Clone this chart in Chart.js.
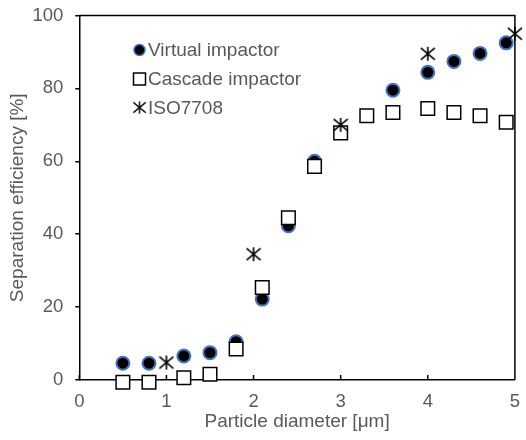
<!DOCTYPE html>
<html>
<head>
<meta charset="utf-8">
<script src="https://cdn.jsdelivr.net/npm/chart.js@4/dist/chart.umd.min.js"></script>
<style>
html,body{margin:0;padding:0;background:#fff;}
#wrap{width:526px;height:440px;position:relative;}
</style>
</head>
<body>
<div id="wrap"><canvas id="c"></canvas></div>
<script>
// Data
const virtualX = [0.5, 0.8, 1.2, 1.5, 1.8, 2.1, 2.4, 2.7, 3.6, 4.0, 4.3, 4.6, 4.9];
const virtualY = [4.6, 4.6, 6.6, 7.5, 10.5, 22.2, 42.3, 60.0, 79.5, 84.4, 87.4, 89.6, 92.5];
const cascadeX = [0.5, 0.8, 1.2, 1.5, 1.8, 2.1, 2.4, 2.7, 3.0, 3.3, 3.6, 4.0, 4.3, 4.6, 4.9];
const cascadeY = [-0.6, -0.6, 0.6, 1.6, 8.5, 25.4, 44.5, 58.6, 67.8, 72.5, 73.4, 74.5, 73.4, 72.5, 70.7];
const isoX = [1, 2, 3, 4, 5];
const isoY = [4.8, 34.5, 70, 89.5, 95];
const seriesNames = ['Virtual impactor', 'Cascade impactor', 'ISO7708'];
const xTicks = [0, 1, 2, 3, 4, 5];
const yTicks = [0, 20, 40, 60, 80, 100];
const xTitle = 'Particle diameter [\u03bcm]';
const yTitle = 'Separation efficiency [%]';

const toPts = (xs, ys) => xs.map((x, i) => ({x: x, y: ys[i]}));

const TXT = '#595959';
const FONT = 'Liberation Sans, Arial, sans-serif';

function makeStar(size) {
  const c = document.createElement('canvas');
  c.width = size; c.height = size;
  const g = c.getContext('2d');
  g.strokeStyle = '#000';
  g.lineWidth = 1.6;
  const m = size / 2, a = size / 2 - 1;
  g.beginPath();
  g.moveTo(m - a, m - a * 0.85); g.lineTo(m + a, m + a * 0.85);
  g.moveTo(m + a, m - a * 0.85); g.lineTo(m - a, m + a * 0.85);
  g.moveTo(m, m - a); g.lineTo(m, m + a);
  g.stroke();
  return c;
}
const star = makeStar(16);

const framePlugin = {
  id: 'frame',
  afterDraw(chart) {
    const {ctx, chartArea: a, scales} = chart;
    ctx.save();
    ctx.strokeStyle = '#000';
    ctx.lineWidth = 1.5;
    ctx.beginPath();
    ctx.moveTo(a.left, a.top); ctx.lineTo(a.right, a.top); ctx.lineTo(a.right, a.bottom);
    // inward x ticks
    xTicks.forEach(v => {
      const px = scales.x.getPixelForValue(v);
      ctx.moveTo(px, a.bottom); ctx.lineTo(px, a.bottom - 5);
    });
    ctx.stroke();
    ctx.restore();
  }
};

const legendPlugin = {
  id: 'customLegend',
  afterDraw(chart) {
    const {ctx} = chart;
    ctx.save();
    const mx = 139.5, tx = 148;
    const ys = [50, 79, 107.5];
    // circle
    ctx.beginPath();
    ctx.arc(mx, ys[0], 5.5, 0, Math.PI * 2);
    ctx.fillStyle = '#000'; ctx.fill();
    ctx.lineWidth = 1.5; ctx.strokeStyle = '#4472C4'; ctx.stroke();
    // square
    ctx.fillStyle = '#fff'; ctx.strokeStyle = '#000'; ctx.lineWidth = 1.5;
    ctx.fillRect(mx - 6, ys[1] - 6, 12, 12);
    ctx.strokeRect(mx - 6, ys[1] - 6, 12, 12);
    // star
    ctx.drawImage(star, mx - 7, ys[2] - 7, 14, 14);
    ctx.fillStyle = TXT;
    ctx.font = '19px ' + FONT;
    ctx.textBaseline = 'middle';
    ctx.textAlign = 'left';
    seriesNames.forEach((n, i) => ctx.fillText(n, tx, ys[i] + 1));
    ctx.restore();
  }
};

new Chart(document.getElementById('c'), {
  type: 'scatter',
  data: {
    datasets: [
      {
        label: seriesNames[2],
        data: toPts(isoX, isoY),
        pointStyle: star,
        pointRadius: 7,
        clip: false
      },
      {
        label: seriesNames[1],
        data: toPts(cascadeX, cascadeY),
        pointStyle: 'rect',
        pointRadius: 9.6,
        backgroundColor: '#fff',
        borderColor: '#000',
        borderWidth: 1.5,
        clip: false
      },
      {
        label: seriesNames[0],
        data: toPts(virtualX, virtualY),
        pointStyle: 'circle',
        pointRadius: 6.5,
        backgroundColor: '#000',
        borderColor: '#4472C4',
        borderWidth: 2,
        clip: false
      }
    ]
  },
  options: {
    responsive: true,
    maintainAspectRatio: false,
    animation: false,
    events: [],
    layout: {padding: {left: 0, top: 15.5, right: 7, bottom: 0}},
    plugins: {legend: {display: false}, tooltip: {enabled: false}},
    scales: {
      x: {
        type: 'linear',
        min: 0, max: 5,
        afterBuildTicks: s => { s.ticks = xTicks.map(v => ({value: v})); },
        afterFit: s => { s.height = 60; s.paddingLeft = 0; s.paddingRight = 0; },
        grid: {display: false, drawTicks: false},
        border: {display: true, color: '#000', width: 1.5},
        ticks: {color: TXT, font: {family: FONT, size: 18.5}, padding: 11},
        title: {display: true, text: xTitle, color: TXT, font: {family: FONT, size: 19}, padding: {top: 0, bottom: 7}}
      },
      y: {
        type: 'linear',
        min: 0, max: 100,
        afterBuildTicks: s => { s.ticks = yTicks.map(v => ({value: v})); },
        afterFit: s => { s.width = 79.3; s.paddingTop = 0; s.paddingBottom = 0; },
        grid: {display: true, drawOnChartArea: false, drawTicks: true, tickLength: 4, color: '#000', lineWidth: 1.5},
        border: {display: true, color: '#000', width: 1.5},
        ticks: {color: TXT, font: {family: FONT, size: 18.5}, padding: 12},
        title: {display: true, text: yTitle, color: TXT, font: {family: FONT, size: 19}, padding: {top: 6, bottom: 0}}
      }
    }
  },
  plugins: [framePlugin, legendPlugin]
});
</script>
</body>
</html>
